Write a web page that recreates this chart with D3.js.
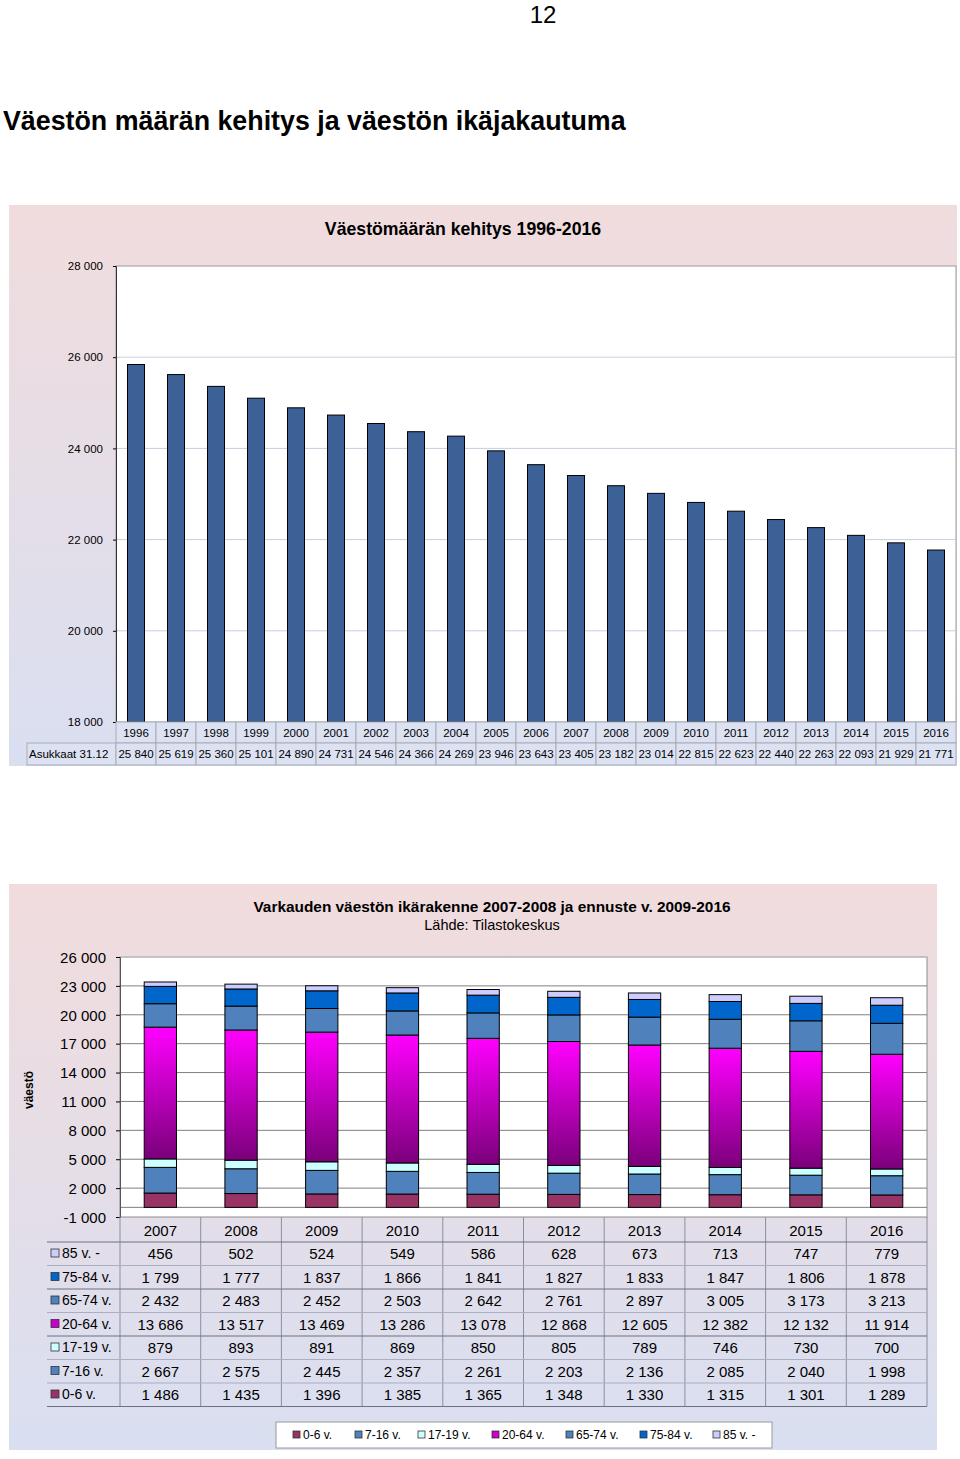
<!DOCTYPE html>
<html><head><meta charset="utf-8">
<script src="https://cdn.jsdelivr.net/npm/d3@7"></script>
<style>body{margin:0;background:#fff;font-family:"Liberation Sans",Arial,sans-serif;}</style>
</head><body>
<svg id="c" width="960" height="1459"></svg>
<script>
// ---------- data ----------
const years1 = ["1996","1997","1998","1999","2000","2001","2002","2003","2004","2005","2006","2007","2008","2009","2010","2011","2012","2013","2014","2015","2016"];
const population = [25840,25619,25360,25101,24890,24731,24546,24366,24269,23946,23643,23405,23182,23014,22815,22623,22440,22263,22093,21929,21771];
const topTicks = [18000,20000,22000,24000,26000,28000];

const years2 = ["2007","2008","2009","2010","2011","2012","2013","2014","2015","2016"];
const groups = ["0-6 v.","7-16 v.","17-19 v.","20-64 v.","65-74 v.","75-84 v.","85 v. -"];
const age0_6   = [1486,1435,1396,1385,1365,1348,1330,1315,1301,1289];
const age7_16  = [2667,2575,2445,2357,2261,2203,2136,2085,2040,1998];
const age17_19 = [879,893,891,869,850,805,789,746,730,700];
const age20_64 = [13686,13517,13469,13286,13078,12868,12605,12382,12132,11914];
const age65_74 = [2432,2483,2452,2503,2642,2761,2897,3005,3173,3213];
const age75_84 = [1799,1777,1837,1866,1841,1827,1833,1847,1806,1878];
const age85    = [456,502,524,549,586,628,673,713,747,779];
const bottomTicks = [-1000,2000,5000,8000,11000,14000,17000,20000,23000,26000];

const series = [age0_6,age7_16,age17_19,age20_64,age65_74,age75_84,age85];
const colors = ["#993366","#4f81bd","#ccffff","url(#mag)","#4f81bd","#0066cc","#ccccff"];
const legendColors = ["#993366","#4f81bd","#ccffff","#cc00cc","#4f81bd","#0066cc","#ccccff"];

const fmt = v => d3.format(",")(v).replace(/,/g," ").replace("\u2212","-");

const svg = d3.select("#c");
const defs = svg.append("defs");
const bg = defs.append("linearGradient").attr("id","bg").attr("x1",0).attr("x2",0).attr("y1",0).attr("y2",1);
bg.append("stop").attr("offset","0").attr("stop-color","#f1dcdd");
bg.append("stop").attr("offset","1").attr("stop-color","#d9dff1");
const mag = defs.append("linearGradient").attr("id","mag").attr("x1",0).attr("x2",0).attr("y1",0).attr("y2",1);
mag.append("stop").attr("offset","0").attr("stop-color","#ff00ff");
mag.append("stop").attr("offset","1").attr("stop-color","#7a007a");

// page header
svg.append("text").attr("x",543).attr("y",23).attr("text-anchor","middle").attr("font-size",24).text("12");
svg.append("text").attr("x",3).attr("y",130).attr("font-size",26.8).attr("font-weight","bold").text("Väestön määrän kehitys ja väestön ikäjakautuma");

// ---------- top chart ----------
svg.append("rect").attr("x",9).attr("y",205).attr("width",948).attr("height",561).attr("fill","url(#bg)");
svg.append("text").attr("x",463).attr("y",235).attr("text-anchor","middle").attr("font-size",17.7).attr("font-weight","bold").text("Väestömäärän kehitys 1996-2016");

const tx0=116, tx1=956, ty0=266, ty1=722;
const xT = d3.scaleBand().domain(years1).range([tx0,tx1]).paddingInner(0.575).paddingOuter(0.2875);
const xTc = d3.scaleBand().domain(years1).range([tx0,tx1]);
const yT = d3.scaleLinear().domain([18000,28000]).range([ty1,ty0]);
svg.append("rect").attr("x",tx0).attr("y",ty0).attr("width",tx1-tx0).attr("height",ty1-ty0).attr("fill","#fff").attr("stroke","#9a9a9a");
const gT = svg.append("g");
gT.selectAll("line.grid").data(topTicks.slice(1,-1)).join("line").attr("x1",tx0).attr("x2",tx1)
  .attr("y1",d=>yT(d)).attr("y2",d=>yT(d)).attr("stroke","#c8cde0");
gT.selectAll("rect.bar").data(population).join("rect")
  .attr("x",(d,i)=>xT(years1[i])).attr("width",xT.bandwidth())
  .attr("y",d=>yT(d)).attr("height",d=>ty1-yT(d))
  .attr("fill","#3b6196").attr("stroke","#000").attr("stroke-width",1);
const axT = svg.append("g").attr("transform",`translate(${tx0},0)`)
  .call(d3.axisLeft(yT).tickValues(topTicks).tickFormat(fmt).tickSize(3));
axT.select(".domain").attr("stroke","#333");
axT.selectAll("text").attr("font-size",11.5).attr("font-family","Liberation Sans, Arial").attr("fill","#000").attr("x",-13).attr("dy","0.32em");
// top table
const tt = svg.append("g").attr("font-size",11.5);
const r1a=722, r1b=743, r2b=765;
tt.selectAll("rect.yc").data(years1).join("rect").attr("x",d=>xTc(d)).attr("y",r1a).attr("width",xTc.bandwidth()).attr("height",r1b-r1a)
  .attr("fill","#dce2f2").attr("stroke","#a8acb8");
tt.selectAll("text.yt").data(years1).join("text").attr("x",d=>xTc(d)+xTc.bandwidth()/2).attr("y",737).attr("text-anchor","middle").text(d=>d);
tt.append("rect").attr("x",27).attr("y",r1b).attr("width",tx0-27).attr("height",r2b-r1b).attr("fill","#dce2f2").attr("stroke","#a8acb8");
tt.append("text").attr("x",29).attr("y",758).text("Asukkaat 31.12");
tt.selectAll("rect.vc").data(population).join("rect").attr("x",(d,i)=>xTc(years1[i])).attr("y",r1b).attr("width",xTc.bandwidth()).attr("height",r2b-r1b)
  .attr("fill","#dce2f2").attr("stroke","#a8acb8");
tt.selectAll("text.vt").data(population).join("text").attr("x",(d,i)=>xTc(years1[i])+xTc.bandwidth()/2).attr("y",758).attr("text-anchor","middle").text(d=>fmt(d));

// ---------- bottom chart ----------
svg.append("rect").attr("x",9).attr("y",884).attr("width",928).attr("height",566).attr("fill","url(#bg)");
svg.append("text").attr("x",492).attr("y",912).attr("text-anchor","middle").attr("font-size",15.4).attr("font-weight","bold").text("Varkauden väestön ikärakenne 2007-2008 ja ennuste v. 2009-2016");
svg.append("text").attr("x",492).attr("y",930).attr("text-anchor","middle").attr("font-size",14.5).text("Lähde: Tilastokeskus");
svg.append("text").attr("transform","translate(33,1090) rotate(-90)").attr("text-anchor","middle").attr("font-size",12).attr("font-weight","bold").text("väestö");

const bx0=120, bx1=927, by0=957, by1=1217;
const xB = d3.scaleBand().domain(years2).range([bx0,bx1]).paddingInner(0.6).paddingOuter(0.3);
const xBc = d3.scaleBand().domain(years2).range([bx0,bx1]);
const yB = d3.scaleLinear().domain([-1000,26000]).range([by1,by0]);
svg.append("rect").attr("x",bx0).attr("y",by0).attr("width",bx1-bx0).attr("height",by1-by0).attr("fill","#fff").attr("stroke","#8c8c8c");
const gB = svg.append("g");
gB.selectAll("line.grid").data(bottomTicks.slice(1).concat([0])).join("line").attr("x1",bx0).attr("x2",bx1)
  .attr("y1",d=>yB(d)).attr("y2",d=>yB(d)).attr("stroke",d=>d===26000?"#c8c8c8":"#7f7f7f");
const stackData = years2.map((y,i)=>{const o={year:y}; groups.forEach((g,k)=>o[g]=series[k][i]); return o;});
const stacked = d3.stack().keys(groups)(stackData);
stacked.forEach((layer,k)=>{
  gB.selectAll("rect.s"+k).data(layer).join("rect")
    .attr("x",d=>xB(d.data.year)).attr("width",xB.bandwidth())
    .attr("y",d=>yB(d[1])).attr("height",d=>yB(d[0])-yB(d[1]))
    .attr("fill",colors[k]).attr("stroke","#000").attr("stroke-width",1);
});
const axB = svg.append("g").attr("transform",`translate(${bx0},0)`)
  .call(d3.axisLeft(yB).tickValues(bottomTicks).tickFormat(fmt).tickSize(4));
axB.select(".domain").attr("stroke","#555");
axB.selectAll("text").attr("font-size",15).attr("font-family","Liberation Sans, Arial").attr("fill","#000").attr("x",-14).attr("dy","0.35em");

// bottom table
const bt = svg.append("g").attr("font-size",15);
const hy0=1217, hy1=1242, rh=23.5;
const rowsOrder = [6,5,4,3,2,1,0];
bt.selectAll("text.yr").data(years2).join("text").attr("x",d=>xBc(d)+xBc.bandwidth()/2).attr("y",1236).attr("text-anchor","middle").text(d=>d);
const tableBottom = hy1 + rh*7;
bt.selectAll("line.v").data(years2.concat(["end"])).join("line")
  .attr("x1",(d,i)=>bx0+i*xBc.bandwidth()).attr("x2",(d,i)=>bx0+i*xBc.bandwidth())
  .attr("y1",hy0).attr("y2",tableBottom).attr("stroke","#8a8fa0");
bt.selectAll("line.h").data(d3.range(8)).join("line")
  .attr("x1",47).attr("x2",bx1).attr("y1",i=>hy1+i*rh).attr("y2",i=>hy1+i*rh)
  .attr("stroke",i=>(i===0||i===2||i===4||i===7)?"#6c7080":"#a9aec0");
rowsOrder.forEach((k,r)=>{
  const cy = hy1 + r*rh;
  bt.append("rect").attr("x",51).attr("y",cy+7).attr("width",8).attr("height",8)
    .attr("fill",legendColors[k]).attr("stroke","#333").attr("stroke-width",0.8);
  bt.append("text").attr("x",62).attr("y",cy+16).attr("font-size",14).text(groups[k]);
  bt.selectAll("text.c"+k).data(series[k]).join("text")
    .attr("x",(d,i)=>xBc(years2[i])+xBc.bandwidth()/2).attr("y",cy+17).attr("text-anchor","middle").text(d=>fmt(d));
});

// legend
const lg = svg.append("g");
lg.append("rect").attr("x",276).attr("y",1422).attr("width",496).attr("height",26).attr("fill","#fff").attr("stroke","#9a9a9a");
const legendX = [293,355,418,492,566,640,713];
groups.forEach((g,k)=>{
  lg.append("rect").attr("x",legendX[k]).attr("y",1431).attr("width",7).attr("height",7).attr("fill",legendColors[k]).attr("stroke","#333").attr("stroke-width",0.8);
  lg.append("text").attr("x",legendX[k]+10).attr("y",1439).attr("font-size",12).text(g);
});
</script>
</body></html>
